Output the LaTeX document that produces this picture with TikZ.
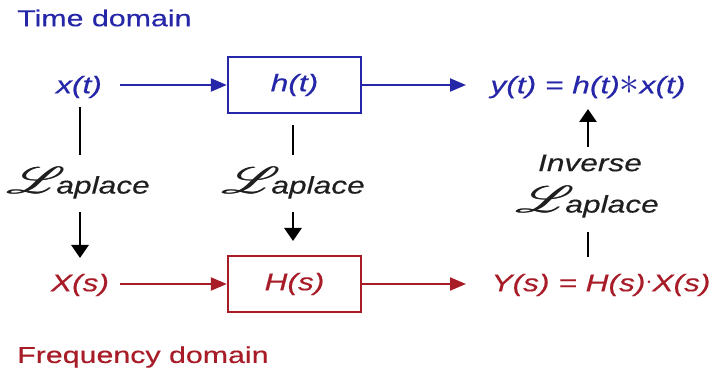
\documentclass[tikz,border=0pt]{standalone}
\usepackage{fontspec}
\setmainfont[FakeStretch=1.32, FakeBold=0.4]{Liberation Sans}
\usepackage{mathrsfs}
\usetikzlibrary{arrows.meta}
\definecolor{tblue}{RGB}{38,38,168}
\definecolor{fred}{RGB}{168,28,40}
% script L, overprinted once with a small shift to thicken its strokes
\newcommand{\scrLglyph}{\fontsize{24.88}{26}\selectfont$\mathscr{L}$}
\newcommand{\scrL}{\scalebox{2.2}[1.5]{\rlap{\scrLglyph}\kern0.4pt\scrLglyph}}
\newcommand{\lapl}{\scrL\kern-9pt\itshape aplace}
\newcommand{\conv}{\raisebox{-1pt}{\scalebox{1.6}{$\ast$}}}
\newcommand{\mdot}{\raisebox{2.5pt}{$\cdot$}}
\tikzset{
  lbl/.style={font=\fontsize{24}{28}\selectfont\itshape, inner sep=0pt},
  hdr/.style={font=\fontsize{23}{26}\selectfont, inner sep=0pt, anchor=west},
  sysbox/.style={draw, line width=2.4pt, minimum width=133pt, minimum height=56pt,
    inner sep=0pt, font=\fontsize{24}{28}\selectfont\itshape},
  flow/.style={line width=2.2pt, -{Triangle[length=16pt,width=13pt]}},
  stem/.style={line width=2.8pt, black},
  stemarrow/.style={line width=2.8pt, black, -{Triangle[length=13pt,width=17pt]}},
  lap/.style={font=\fontsize{24}{28}\selectfont, inner sep=0pt, text=black!88}
}
\begin{document}
\begin{tikzpicture}[x=1pt, y=-1pt]
  \useasboundingbox (0,0) rectangle (716,374);
  % headings
  \node[hdr, text=tblue] (tdom) at (17,18) {Time domain};
  \node[hdr, text=fred] (fdom) at (17,357) {Frequency domain};
  % time-domain row
  \node[lbl, text=tblue] (xt) at (79,87) {x(t)};
  \node[sysbox, draw=tblue, text=tblue] (ht) at (294.5,85) {h(t)};
  \node[lbl, text=tblue] (yt) at (588,87) {y(t) = h(t)\conv x(t)};
  % frequency-domain row
  \node[lbl, text=fred] (Xs) at (80,285) {X(s)};
  \node[sysbox, draw=fred, text=fred] (Hs) at (294.5,284) {H(s)};
  \node[lbl, text=fred] (Ys) at (601,285) {Y(s) = H(s)\mdot X(s)};
  % transform labels
  \node[lap] (lapA) at (78,183) {\lapl};
  \node[lap] (lapB) at (293,183) {\lapl};
  \node[lap, font=\fontsize{24}{28}\selectfont\itshape] (inv) at (590,163) {Inverse};
  \node[lap] (lapC) at (587,202) {\lapl};
  % horizontal flows
  \draw[flow, tblue] (120,85) -- (ht.west);
  \draw[flow, tblue] (ht.east) -- (466,85);
  \draw[flow, fred] (120,284) -- (Hs.west);
  \draw[flow, fred] (Hs.east) -- (466,284);
  % Laplace transforms
  \draw[stem] (80,107) -- (80,155);
  \draw[stemarrow] (80,212) -- (80,258);
  \draw[stem] (293,125) -- (293,155);
  \draw[stemarrow] (293,212) -- (293,241);
  \draw[stem] (588,232) -- (588,257);
  \draw[stemarrow] (588,147) -- (588,109);
\end{tikzpicture}
\end{document}
